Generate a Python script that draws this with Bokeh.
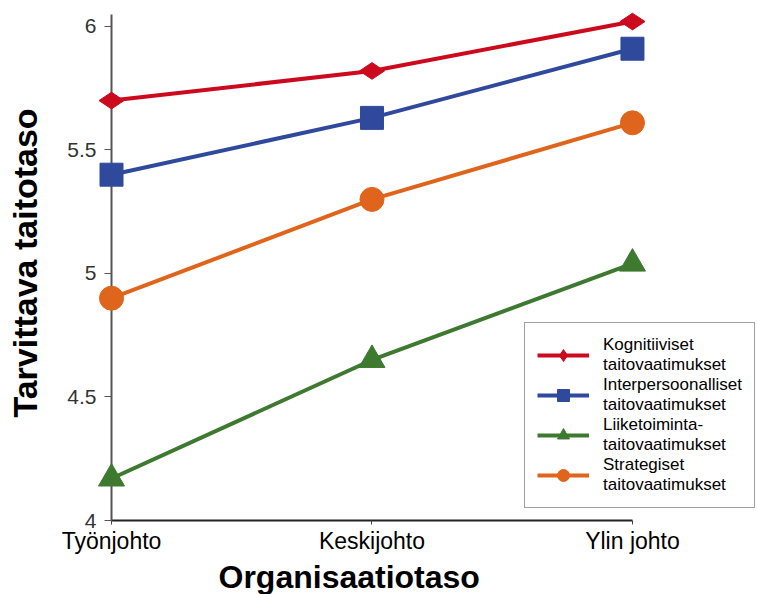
import math
from bokeh.plotting import figure
from bokeh.models import Range1d, FixedTicker, Legend, LegendItem, Title
from bokeh.embed import file_html
from bokeh.resources import INLINE

levels = ["Työnjohto", "Keskijohto", "Ylin johto"]
kognitiiviset = [5.70, 5.82, 6.02]
interpersoonalliset = [5.40, 5.63, 5.91]
liiketoiminta = [4.17, 4.65, 5.04]
strategiset = [4.90, 5.30, 5.61]
series_labels = [
    "Kognitiiviset\ntaitovaatimukset",
    "Interpersoonalliset\ntaitovaatimukset",
    "Liiketoiminta-\ntaitovaatimukset",
    "Strategiset\ntaitovaatimukset",
]
y_ticks = [4, 4.5, 5, 5.5, 6]
x_title = "Organisaatiotaso"
y_title = "Tarvittava taitotaso"

xs = list(range(len(levels)))

p = figure(width=757, height=594, output_backend="svg", toolbar_location=None,
           x_range=Range1d(0, 2.48), y_range=Range1d(4, 6.085),
           min_border_left=111, min_border_right=0, min_border_top=5,
           min_border_bottom=72)
p.outline_line_color = None
p.grid.visible = False
p.background_fill_color = "white"
p.border_fill_color = "white"

font = "Liberation Sans"

# x axis
xa = p.xaxis[0]
xa.ticker = FixedTicker(ticks=xs)
xa.major_label_overrides = {i: lab for i, lab in enumerate(levels)}
xa.bounds = (0, 2)
xa.axis_line_color = "#222222"
xa.axis_line_width = 2
xa.major_tick_line_color = "#444444"
xa.major_tick_out = 4
xa.major_tick_in = 0
xa.minor_tick_line_color = None
xa.major_label_text_font = font
xa.major_label_text_font_size = "23px"
xa.major_label_text_color = "black"
xa.major_label_standoff = 3

# y axis
ya = p.yaxis[0]
ya.ticker = FixedTicker(ticks=y_ticks)
ya.bounds = (4, 6.05)
ya.axis_line_color = "#555555"
ya.axis_line_width = 2
ya.major_tick_line_color = "#555555"
ya.major_tick_out = 7
ya.major_tick_in = 0
ya.minor_tick_line_color = None
ya.major_label_text_font = font
ya.major_label_text_font_size = "21px"
ya.major_label_text_color = "#333333"
ya.major_label_standoff = 8
ya.axis_label = y_title
ya.axis_label_text_font = font
ya.axis_label_text_font_size = "34px"
ya.axis_label_text_font_style = "bold"
ya.axis_label_text_color = "black"
ya.axis_label_standoff = 20

specs = [
    (kognitiiviset, "#cc0a1e", "diamond", 25, math.pi / 2),
    (interpersoonalliset, "#2f4a9c", "square", 23, 0),
    (liiketoiminta, "#3d7a30", "triangle", 26, 0),
    (strategiset, "#e0651c", "circle", 24, 0),
]

items = []
for (vals, color, marker, size, ang), lab in zip(specs, series_labels):
    lr = p.line(xs, vals, line_width=4, line_color=color, level="overlay")
    sr = p.scatter(xs, vals, marker=marker, size=size, angle=ang,
                   fill_color=color, line_color=color, level="overlay")
    items.append(LegendItem(label=lab, renderers=[lr, sr]))

legend = Legend(items=items, location=(413, 12))
legend.label_text_font = font
legend.label_text_font_size = "17px"
legend.label_text_color = "black"
legend.label_text_line_height = 1.2
legend.glyph_width = 52
legend.glyph_height = 30
legend.spacing = 0
legend.padding = 12
legend.margin = 0
legend.label_standoff = 14
legend.border_line_color = "#444444"
legend.border_line_width = 1.5
legend.background_fill_color = "white"
legend.background_fill_alpha = 1
p.add_layout(legend)

p.add_layout(Title(text=x_title, align="left", offset=107, standoff=0,
                   text_font=font, text_font_size="32px", text_font_style="bold",
                   text_color="black"), "below")

open("out.html", "w").write(file_html(p, INLINE))
